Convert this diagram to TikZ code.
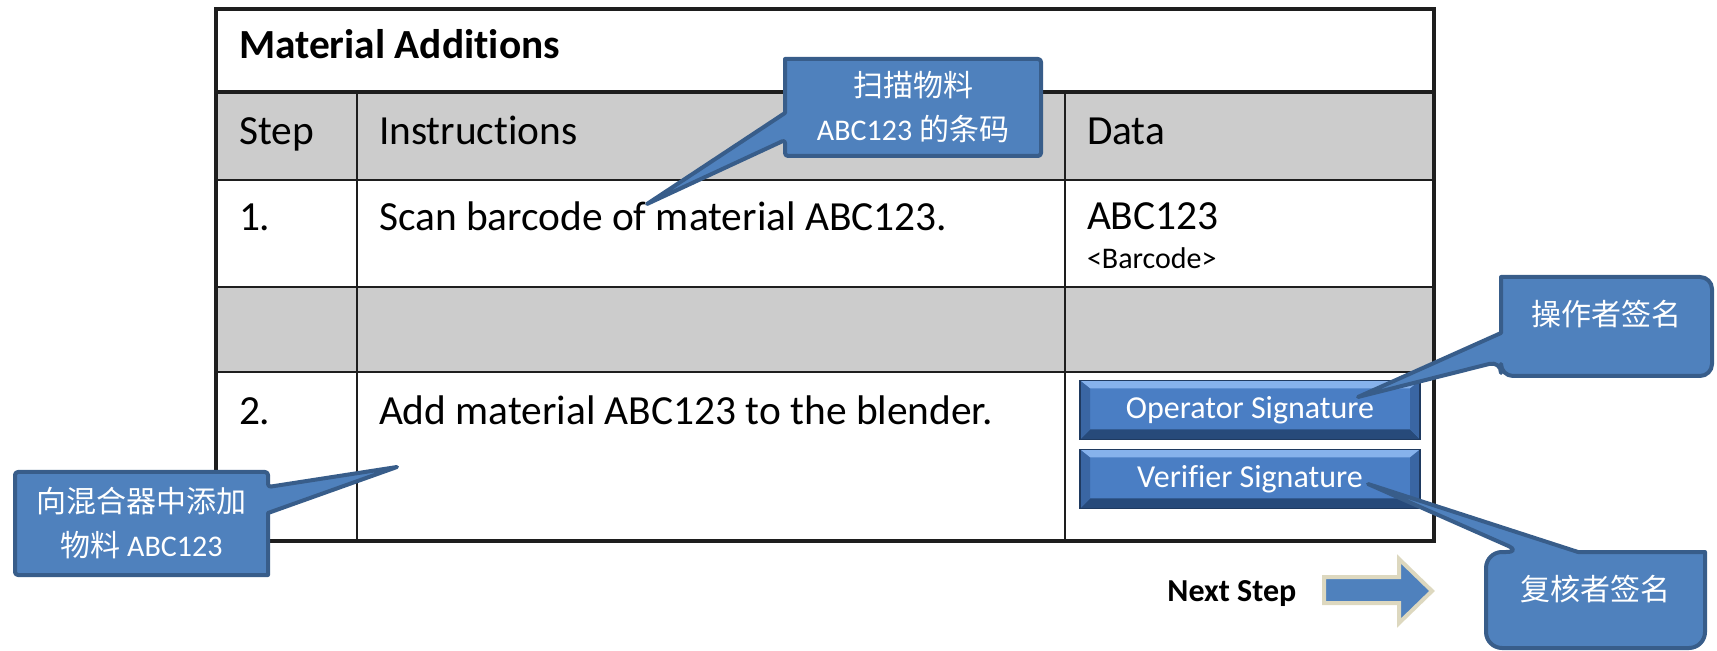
\documentclass[tikz,border=0pt]{standalone}
\usepackage{fontspec}
\setmainfont{Carlito}[Ligatures=NoCommon]
\newfontfamily\cjk{Noto Sans CJK SC}
\usetikzlibrary{calc}
\definecolor{cfill}{HTML}{4F81BD}
\definecolor{cedge}{HTML}{385D8A}
\definecolor{rowgray}{HTML}{CCCCCC}
\definecolor{tline}{HTML}{1E1E1E}
\definecolor{btnfill}{HTML}{4A7EC4}
\definecolor{btnedge}{HTML}{1F3A60}
\definecolor{btnlight}{HTML}{86B2EC}
\definecolor{btndark}{HTML}{274A7A}
\definecolor{btnside}{HTML}{3A66A3}
\definecolor{arrowedge}{HTML}{DDD8BF}
\pgfdeclarelayer{shapes}
\pgfdeclarelayer{labels}
\pgfsetlayers{main,shapes,labels}
\tikzset{
  cell/.style={anchor=base west, inner sep=0pt, outer sep=0pt, font=\fontsize{20.7}{24}\selectfont, text=black},
  headcell/.style={cell, font=\bfseries\fontsize{20.7}{24}\selectfont},
  smallcell/.style={cell, font=\fontsize{15}{18}\selectfont},
  gridline/.style={draw=tline, line width=1.4pt},
  btn/.style={draw=btnedge, line width=0.8pt, fill=btnfill, minimum width=170pt, minimum height=29.5pt,
    inner sep=0pt, outer sep=0pt, text=white, font=\fontsize{16}{19}\selectfont,
    path picture={
      \fill[btnlight] (path picture bounding box.north west) -- (path picture bounding box.north east)
        -- ([shift={(-5pt,-4pt)}]path picture bounding box.north east) -- ([shift={(5pt,-4pt)}]path picture bounding box.north west) -- cycle;
      \fill[btndark] (path picture bounding box.south west) -- (path picture bounding box.south east)
        -- ([shift={(-5pt,5pt)}]path picture bounding box.south east) -- ([shift={(5pt,5pt)}]path picture bounding box.south west) -- cycle;
      \fill[btnside] (path picture bounding box.north west) -- ([shift={(5pt,-4pt)}]path picture bounding box.north west)
        -- ([shift={(5pt,5pt)}]path picture bounding box.south west) -- (path picture bounding box.south west) -- cycle;
      \fill[btnside] (path picture bounding box.north east) -- ([shift={(-5pt,-4pt)}]path picture bounding box.north east)
        -- ([shift={(-5pt,5pt)}]path picture bounding box.south east) -- (path picture bounding box.south east) -- cycle;
    }},
  callbox/.style={inner sep=0pt, outer sep=0pt, align=center, text=white, font=\fontsize{15}{22}\selectfont},
  callout/.style={fill=cfill, draw=cedge, line width=2pt, line join=round},
  nextarrow/.style={fill=cfill, draw=arrowedge, line width=2pt, line join=miter},
}
\begin{document}
\begin{tikzpicture}[x=0.5pt, y=-0.5pt]
\useasboundingbox (0,0) rectangle (1717,651);
% table
\fill[white] (216,9) rectangle (1434,541);
\fill[rowgray] (216,92) rectangle (1434,180);
\fill[rowgray] (216,287) rectangle (1434,372);
\draw[gridline] (216,180) -- (1434,180);
\draw[gridline] (216,287) -- (1434,287);
\draw[gridline] (216,372) -- (1434,372);
\draw[gridline] (357,92) -- (357,541);
\draw[gridline] (1065,92) -- (1065,541);
\draw[gridline, line width=2.2pt] (216,92) -- (1434,92);
\draw[gridline, line width=1.6pt] (216,9) rectangle (1434,541);
\node[headcell] (title) at (239,59) {Material Additions};
\node[cell] (hstep) at (239,145) {Step};
\node[cell] (hins) at (379,145) {Instructions};
\node[cell] (hdata) at (1087,145) {Data};
\node[cell] (s1) at (239,231) {1.};
\node[cell] (i1) at (379,231) {Scan barcode of material ABC123.};
\node[cell] (d1) at (1087,230) {ABC123};
\node[smallcell] (d1b) at (1087,269) {<Barcode>};
\node[cell] (s2) at (239,425) {2.};
\node[cell] (i2) at (379,425) {Add material ABC123 to the blender.};
% buttons
\node[btn] (op) at (1250,410) {Operator Signature};
\node[btn] (vf) at (1250,479) {Verifier Signature};
% next step
\node[anchor=base west, inner sep=0pt, font=\bfseries\fontsize{16}{19}\selectfont] (ns) at (1167,601) {Next Step};
\draw[nextarrow] (1324,577) -- (1399,577) -- (1399,559) -- (1432,591) -- (1399,623) -- (1399,603) -- (1324,603) -- cycle;
% callouts
\coordinate (tipA) at (647,204);
\coordinate (tipB) at (1358,397);
\coordinate (tipC) at (1368,484);
\coordinate (tipD) at (397,467);
\begin{pgfonlayer}{labels}
\node[callbox, minimum width=128pt, minimum height=48.5pt] (ca) at (913,107.5) {{\cjk 扫描物料}\\ABC123 {\cjk 的条码}};
\node[callbox, minimum width=105.5pt, minimum height=49.5pt] (cb) at (1606.5,326.5) {\raisebox{6pt}[\height][\depth]{\cjk 操作者签名}};
\node[callbox, minimum width=109.5pt, minimum height=48pt] (cc) at (1595.5,600) {\raisebox{5.5pt}[\height][\depth]{\cjk 复核者签名}};
\node[callbox, minimum width=126.5pt, minimum height=51.5pt] (cd) at (141.5,523.5) {{\cjk 向混合器中添加}\\{\cjk 物料} ABC123};
\end{pgfonlayer}
\begin{pgfonlayer}{shapes}
\draw[callout] (ca.north) [rounded corners=1.5pt] -- (ca.north east) -- (ca.south east) -- (ca.south west)
  -- ($(ca.north west)+(0,81)$) [sharp corners] -- (tipA) -- ($(ca.north west)+(0,54)$)
  -- (ca.north west) [rounded corners=1.5pt] -- cycle;
\draw[callout] (cb.north) [rounded corners=6pt] -- (cb.north east) -- (cb.south east) -- (cb.south west)
  -- ($(cb.north west)+(0,84)$) [sharp corners] -- (tipB) -- ($(cb.north west)+(0,56)$)
  -- (cb.north west) [rounded corners=6pt] -- cycle;
\draw[callout] (cc.east) [rounded corners=8pt] -- (cc.south east) -- (cc.south west) -- (cc.north west)
  -- ($(cc.north west)+(36,0)$) [sharp corners] -- (tipC) -- ($(cc.north west)+(92,0)$)
  -- (cc.north east) [rounded corners=8pt] -- cycle;
\draw[callout] (cd.south) [rounded corners=1.5pt] -- (cd.south west) -- (cd.north west) -- (cd.north east)
  -- ($(cd.north east)+(0,15)$) [sharp corners] -- (tipD) -- ($(cd.north east)+(0,41)$)
  -- (cd.south east) [rounded corners=1.5pt] -- cycle;
\end{pgfonlayer}
\end{tikzpicture}
\end{document}
